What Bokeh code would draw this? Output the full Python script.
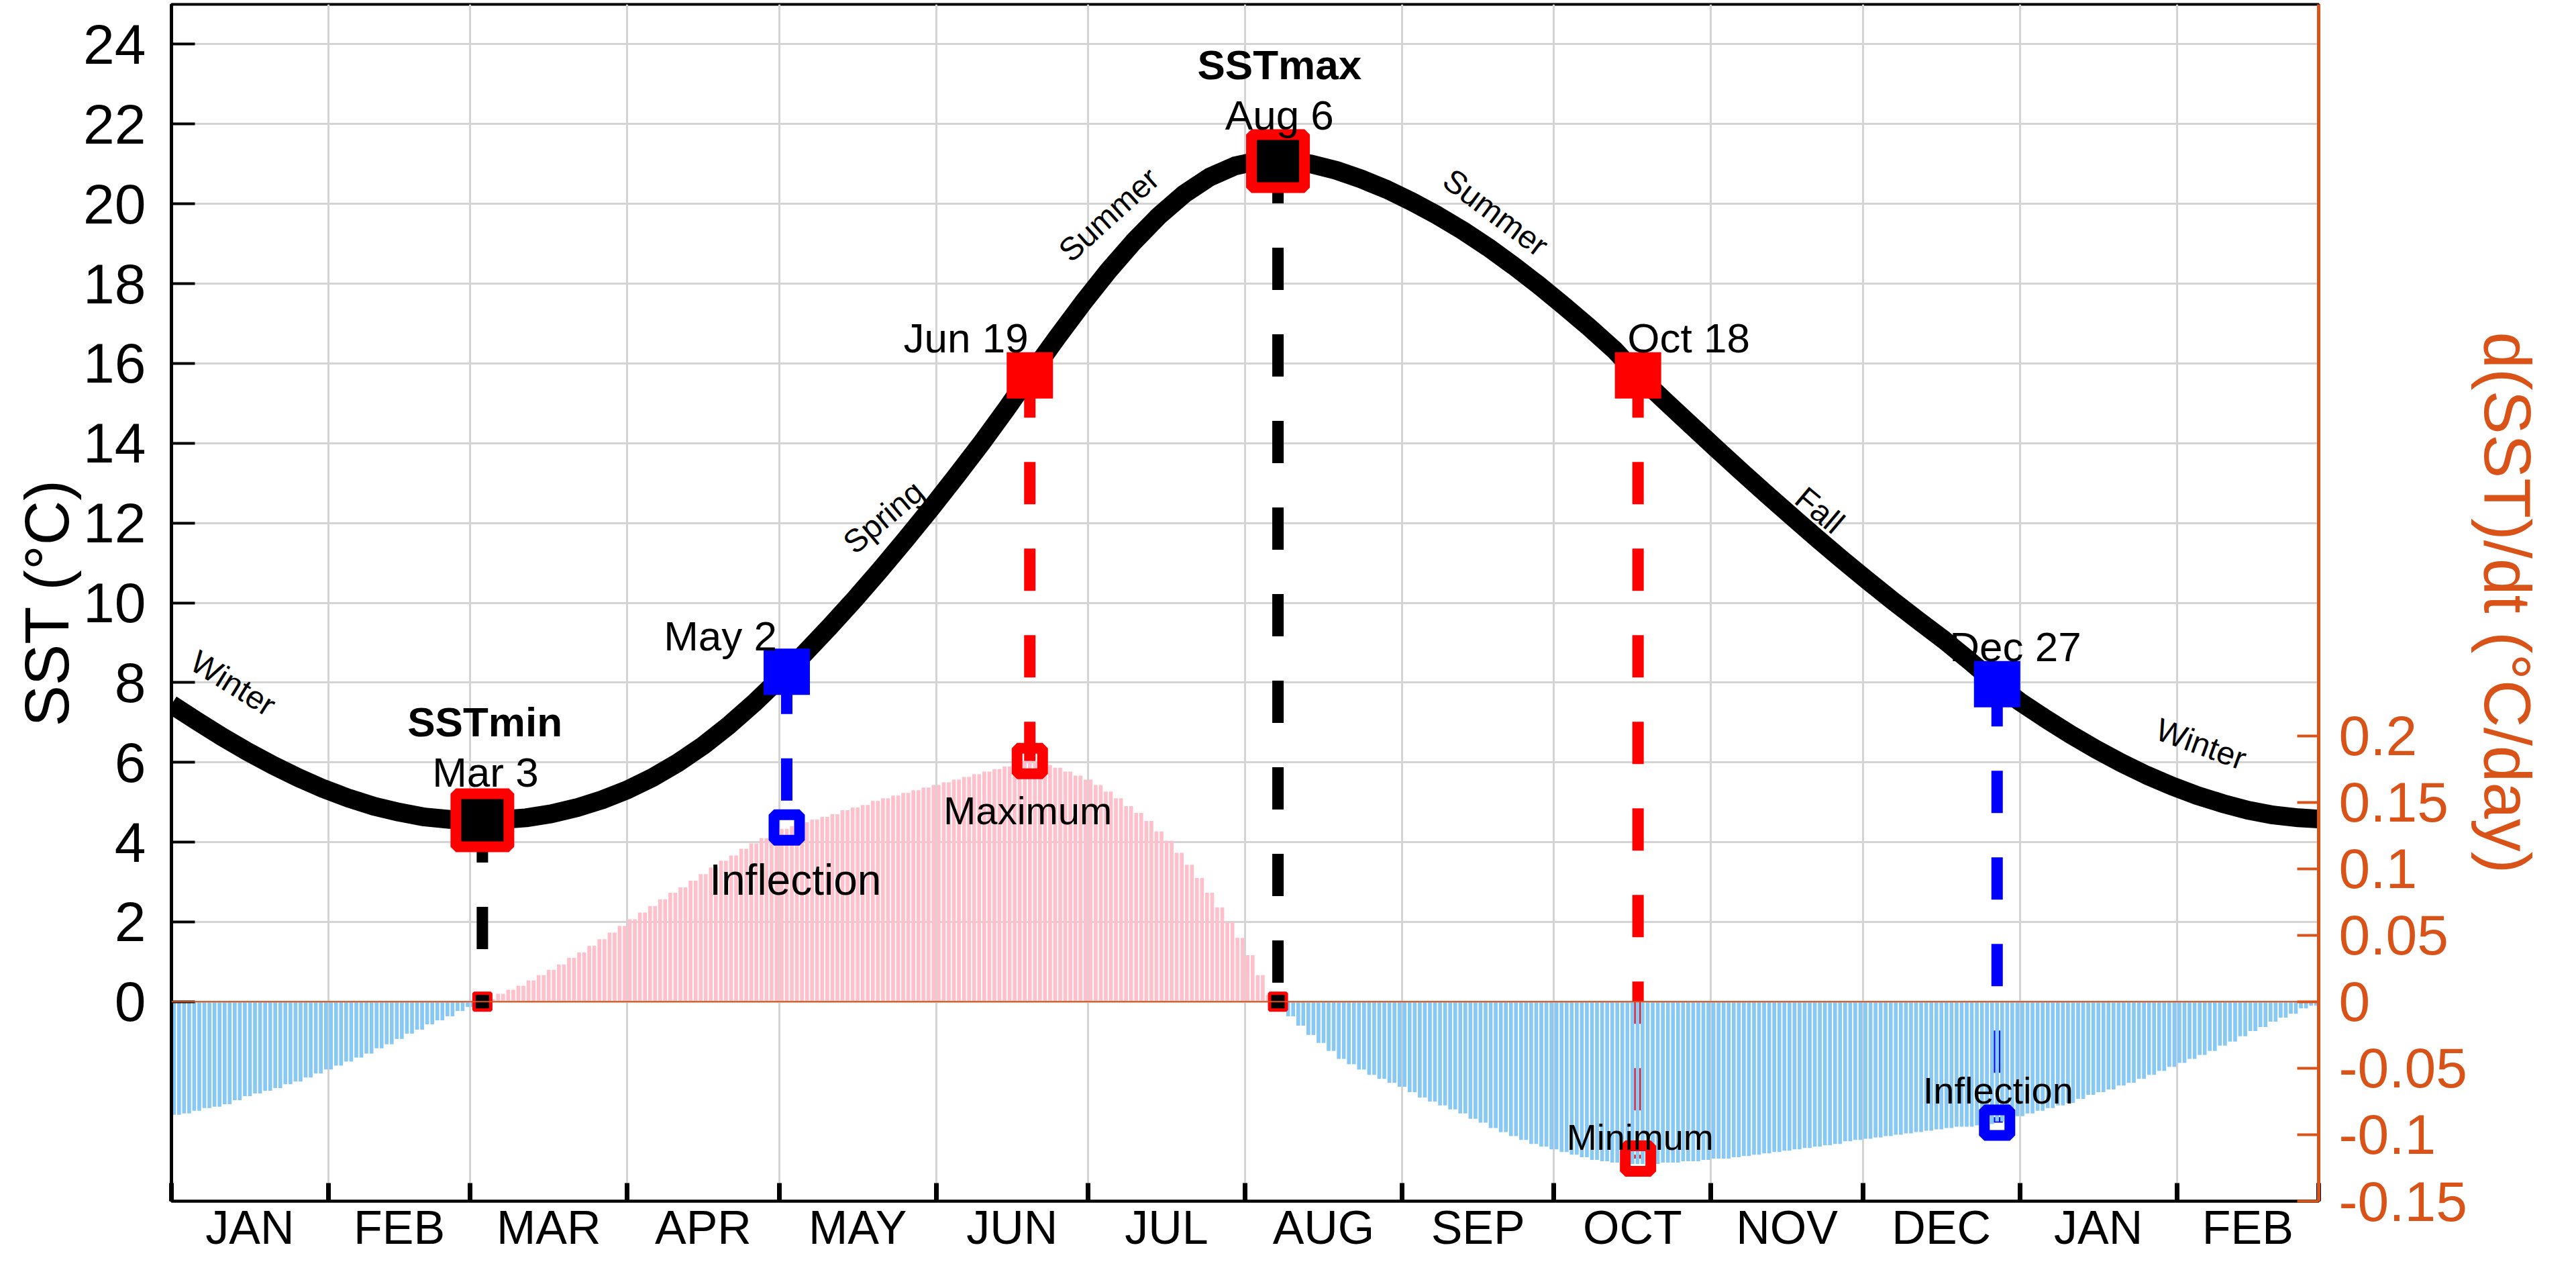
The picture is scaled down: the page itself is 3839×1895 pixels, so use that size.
import numpy as np
from bokeh.plotting import figure
from bokeh.models import (Range1d, LinearAxis, FixedTicker, Span, ColumnDataSource,
                          CustomJSTickFormatter)
from bokeh.core.properties import value
from bokeh.embed import file_html
from bokeh.resources import INLINE

# ---------------- data ----------------
month_labels = ["JAN", "FEB", "MAR", "APR", "MAY", "JUN", "JUL", "AUG",
                "SEP", "OCT", "NOV", "DEC", "JAN", "FEB"]
month_days = [31, 28, 31, 30, 31, 30, 31, 31, 30, 31, 30, 31, 31, 28]

# SST climatology curve (day since Jan 1, degC)
sst_day = [0, 5, 10, 15, 20, 25, 30, 35, 40, 45, 50, 55, 61.4, 65, 70, 75, 80, 85,
           90, 95, 100, 105, 110, 115, 121.5, 125, 130, 135, 140, 145, 150, 155,
           160, 165, 169.5, 175, 180, 185, 190, 195, 200, 205, 210, 215, 218.5,
           221, 225, 230, 235, 240, 245, 250, 255, 260, 265, 270, 275, 280, 285,
           289.6, 295, 300, 305, 310, 315, 320, 325, 330, 335, 340, 345, 350, 355,
           360.5, 365, 370, 375, 380, 385, 390, 395, 400, 405, 410, 415, 420, 424]
sst_val = [7.45, 7.04, 6.64, 6.27, 5.93, 5.62, 5.34, 5.10, 4.90, 4.75, 4.63, 4.57,
           4.55, 4.56, 4.61, 4.71, 4.86, 5.06, 5.31, 5.62, 5.99, 6.42, 6.92, 7.48,
           8.27, 8.73, 9.40, 10.10, 10.83, 11.59, 12.37, 13.18, 14.01, 14.88, 15.70,
           16.67, 17.52, 18.32, 19.05, 19.70, 20.25, 20.67, 20.95, 21.09, 21.10,
           21.08, 21.00, 20.84, 20.62, 20.36, 20.05, 19.71, 19.33, 18.91, 18.45,
           17.96, 17.44, 16.90, 16.33, 15.70, 15.05, 14.46, 13.87, 13.29, 12.72,
           12.16, 11.61, 11.07, 10.55, 10.04, 9.55, 9.07, 8.55, 7.96, 7.52, 7.10,
           6.70, 6.33, 5.99, 5.68, 5.41, 5.17, 4.97, 4.80, 4.68, 4.61, 4.58]

# d(SST)/dt bars, one value per two consecutive days (degC/day)
dsst_pairs = [
    -0.085, -0.084, -0.082, -0.080, -0.079, -0.077, -0.074, -0.071, -0.069, -0.067,
    -0.065, -0.062, -0.060, -0.057, -0.054, -0.051, -0.048, -0.045, -0.042, -0.039,
    -0.035, -0.032, -0.028, -0.024, -0.021, -0.017, -0.014, -0.011, -0.007, -0.004,
    -0.001, 0.002, 0.006, 0.009, 0.012, 0.016, 0.020, 0.024, 0.028, 0.033,
    0.037, 0.042, 0.047, 0.052, 0.057, 0.062, 0.067, 0.072, 0.077, 0.082,
    0.086, 0.091, 0.096, 0.101, 0.106, 0.110, 0.115, 0.119, 0.123, 0.127,
    0.130, 0.132, 0.135, 0.137, 0.139, 0.141, 0.144, 0.146, 0.148, 0.151,
    0.153, 0.155, 0.157, 0.159, 0.161, 0.163, 0.165, 0.167, 0.169, 0.171,
    0.173, 0.175, 0.177, 0.179, 0.181, 0.180, 0.178, 0.176, 0.173, 0.170,
    0.167, 0.163, 0.158, 0.153, 0.147, 0.142, 0.136, 0.128, 0.121, 0.112,
    0.103, 0.093, 0.082, 0.071, 0.060, 0.048, 0.035, 0.020, 0.005, -0.004,
    -0.011, -0.018, -0.025, -0.031, -0.037, -0.043, -0.047, -0.051, -0.055, -0.058,
    -0.061, -0.064, -0.068, -0.072, -0.075, -0.078, -0.081, -0.084, -0.088, -0.091,
    -0.095, -0.098, -0.101, -0.104, -0.107, -0.109, -0.111, -0.113, -0.115, -0.117,
    -0.119, -0.120, -0.121, -0.122, -0.122, -0.122, -0.122, -0.121, -0.121, -0.120,
    -0.120, -0.119, -0.118, -0.118, -0.117, -0.116, -0.115, -0.114, -0.113, -0.112,
    -0.111, -0.110, -0.109, -0.108, -0.107, -0.105, -0.104, -0.103, -0.102, -0.101,
    -0.100, -0.099, -0.098, -0.097, -0.096, -0.095, -0.094, -0.094, -0.093, -0.092,
    -0.090, -0.088, -0.086, -0.084, -0.082, -0.080, -0.078, -0.076, -0.073, -0.070,
    -0.068, -0.066, -0.063, -0.061, -0.058, -0.055, -0.052, -0.049, -0.046, -0.043,
    -0.040, -0.037, -0.033, -0.030, -0.026, -0.022, -0.019, -0.015, -0.012, -0.009,
    -0.005, -0.003]

# key dates
key_labels = ["Mar 3", "May 2", "Jun 19", "Aug 6", "Oct 18", "Dec 27"]
key_day = [61.4, 121.5, 169.5, 218.5, 289.6, 360.5]
key_sst = [4.55, 8.27, 15.70, 21.07, 15.70, 7.96]
key_dsst = [0.0, 0.131, 0.181, 0.0, -0.118, -0.091]

extreme_labels = ["SSTmin", "SSTmax"]
deriv_labels = ["Inflection", "Maximum", "Minimum", "Inflection"]
season_labels = ["Winter", "Spring", "Summer", "Summer", "Fall", "Winter"]
left_title = "SST (\u00b0C)"
right_title = "d(SST)/dt (\u00b0C/day)"

# ---------------- styling / layout ----------------
FONT = "Liberation Sans"
ORANGE = "#D95319"
W, H = 3823, 1879
L_LO, L_HI = -5.0, 25.0
R_LO, R_HI = -0.15, 0.75
FAC = (R_HI - R_LO) / (L_HI - L_LO)

bounds = list(np.concatenate([[0], np.cumsum(month_days)]).astype(float))
mids = [(bounds[i] + bounds[i + 1]) / 2 for i in range(len(month_days))]
xmax = bounds[-1]

p = figure(width=W, height=H, output_backend="svg", toolbar_location=None,
           x_range=Range1d(0, xmax), y_range=Range1d(L_LO, L_HI))
p.min_border_left = 255
p.min_border_right = 368
p.min_border_top = 6
p.min_border_bottom = 90
p.background_fill_color = "white"
p.border_fill_color = "white"
p.outline_line_color = "black"
p.outline_line_width = 4
p.extra_y_ranges = {"d": Range1d(R_LO, R_HI)}

# grids
p.xgrid.ticker = FixedTicker(ticks=bounds)
p.xgrid.grid_line_color = "#d4d4d4"
p.xgrid.grid_line_width = 3
p.ygrid.grid_line_color = "#d4d4d4"
p.ygrid.grid_line_width = 3

# x axis: ticks at month boundaries, names centred in each month
xa = p.xaxis[0]
xa.ticker = FixedTicker(ticks=mids, minor_ticks=bounds)
xa.formatter = CustomJSTickFormatter(args=dict(labels=month_labels, mids=mids), code="""
    for (let k = 0; k < mids.length; k++) { if (Math.abs(mids[k] - tick) < 1e-6) return labels[k]; }
    return "";
""")
xa.major_tick_in = 0
xa.major_tick_out = 0
xa.minor_tick_in = 27
xa.minor_tick_out = 0
xa.minor_tick_line_width = 7
xa.minor_tick_line_color = "black"
xa.axis_line_width = 4
xa.axis_line_color = "black"
xa.major_label_text_font = FONT
xa.major_label_text_font_size = "70px"
xa.major_label_text_color = "black"
xa.major_label_standoff = 0

# left axis
ya = p.yaxis[0]
ya.ticker = FixedTicker(ticks=list(range(0, 25, 2)))
ya.major_tick_in = 35
ya.major_tick_out = 0
ya.major_tick_line_width = 4
ya.major_tick_line_color = "black"
ya.minor_tick_line_color = None
ya.axis_line_width = 5
ya.axis_line_color = "black"
ya.major_label_text_font = FONT
ya.major_label_text_font_size = "84px"
ya.major_label_text_color = "black"
ya.major_label_standoff = 38
ya.axis_label = left_title
ya.axis_label_text_font = FONT
ya.axis_label_text_font_size = "92px"
ya.axis_label_text_font_style = "normal"
ya.axis_label_text_color = "black"
ya.axis_label_standoff = 0

# right axis
ra = LinearAxis(y_range_name="d",
                ticker=FixedTicker(ticks=[-0.15, -0.1, -0.05, 0, 0.05, 0.1, 0.15, 0.2]),
                formatter=CustomJSTickFormatter(code="return String(Math.round(tick*100)/100);"))
ra.major_tick_in = 32
ra.major_tick_out = 0
ra.major_tick_line_width = 4
ra.major_tick_line_color = ORANGE
ra.minor_tick_line_color = None
ra.axis_line_color = ORANGE
ra.axis_line_width = 5
ra.major_label_text_font = FONT
ra.major_label_text_font_size = "84px"
ra.major_label_text_color = ORANGE
ra.major_label_standoff = 30
ra.axis_label = right_title
ra.axis_label_text_font = FONT
ra.axis_label_text_font_size = "98px"
ra.axis_label_text_font_style = "normal"
ra.axis_label_text_color = ORANGE
ra.axis_label_standoff = 2
p.add_layout(ra, "right")

# dashed connectors (drawn under the bars)
dash_colors = ["black", "blue", "red", "black", "red", "blue"]
p.segment(x0=key_day, y0=key_sst, x1=key_day, y1=[v / FAC for v in key_dsst],
          line_color=dash_colors, line_width=17, line_dash="63 66")

# derivative bars
vals = np.repeat(np.array(dsst_pairs), 2)
bar_x = np.arange(len(vals)) + 0.5
bar_col = np.where(vals >= 0, "#FFC0CB", "#87C8F5")
p.vbar(x=bar_x, top=vals, bottom=0, width=0.75, y_range_name="d",
       fill_color=bar_col, line_color=None)

p.add_layout(Span(location=0, dimension="width", y_range_name="d",
                  line_color=ORANGE, line_width=2))

# SST curve
p.line(sst_day, sst_val, line_color="black", line_width=28, line_join="round")

# markers on SST curve
ext = [0, 3]
infl = [1, 5]
mx = [2, 4]
p.scatter([key_day[i] for i in ext], [key_sst[i] for i in ext], marker="square",
          size=79, fill_color="black", line_color="red", line_width=16)
p.scatter([key_day[i] for i in infl], [key_sst[i] for i in infl], marker="square",
          size=69, fill_color="blue", line_color=None)
p.scatter([key_day[i] for i in mx], [key_sst[i] for i in mx], marker="square",
          size=69, fill_color="red", line_color=None)

# markers on derivative
p.scatter([key_day[i] for i in ext], [key_dsst[i] for i in ext], marker="square",
          size=25, fill_color="black", line_color="red", line_width=5, y_range_name="d")
p.scatter([key_day[i] for i in infl], [key_dsst[i] for i in infl], marker="square",
          size=38, fill_alpha=0, line_color="blue", line_width=16, y_range_name="d")
p.scatter([key_day[i] for i in mx], [key_dsst[i] for i in mx], marker="square",
          size=38, fill_alpha=0, line_color="red", line_width=16, y_range_name="d")

# date labels
date_src = ColumnDataSource(dict(
    x=[62.0, 108.4, 156.9, 218.8, 299.6, 364.1],
    y=[5.75, 9.16, 16.63, 22.22, 16.63, 8.89],
    t=key_labels))
p.text(x="x", y="y", text="t", source=date_src, text_font=value(FONT),
       text_font_size="62px", text_align="center", text_baseline="alphabetic",
       text_color="black")

ext_src = ColumnDataSource(dict(x=[61.9, 218.8], y=[7.01, 23.48], t=extreme_labels))
p.text(x="x", y="y", text="t", source=ext_src, text_font=value(FONT),
       text_font_size="62px", text_font_style="bold", text_align="center",
       text_baseline="alphabetic", text_color="black")

der_src = ColumnDataSource(dict(x=[123.2, 169.1, 290.0, 360.7],
                                y=[3.05, 4.80, -3.40, -2.22],
                                t=deriv_labels,
                                fs=["64px", "58px", "54px", "56px"]))
p.text(x="x", y="y", text="t", source=der_src, text_font=value(FONT),
       text_font_size="fs", text_align="center", text_baseline="alphabetic",
       text_color="black")

sea_src = ColumnDataSource(dict(x=[12.2, 140.6, 185.1, 261.5, 325.5, 400.8],
                                y=[7.98, 12.15, 19.73, 19.78, 12.32, 6.46],
                                a=[-32, 40, 42, -37, -40, -20],
                                t=season_labels))
p.text(x="x", y="y", text="t", angle="a", angle_units="deg", source=sea_src,
       text_font=value(FONT), text_font_size="48px", text_align="center",
       text_baseline="middle", text_color="black")

open("out.html", "w").write(file_html(p, INLINE))
